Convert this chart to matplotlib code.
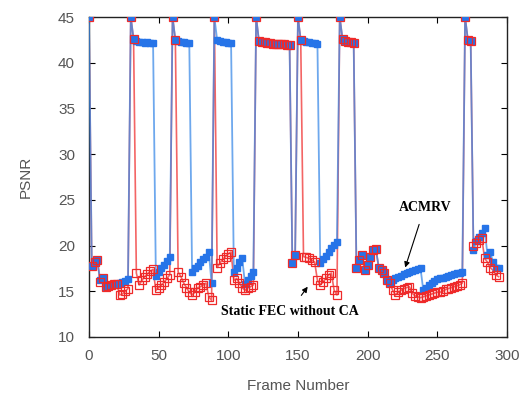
import matplotlib
matplotlib.use("Agg")
import matplotlib.pyplot as plt

# frame grid (every second frame)
frames = list(range(0, 296, 2))

# ACMRV
acmrv = [
    45,
    17.8, 18.2, 18.4, 16.2, 16.4, 15.5, 15.6, 15.7, 15.8, 15.8, 15.9, 16.0, 16.1, 16.3,
    45, 42.6, 42.4, 42.3, 42.3, 42.2, 42.3, 42.2, 42.2,
    16.7, 17.1, 17.5, 17.9, 18.3, 18.7,
    45, 42.5, 42.4, 42.3, 42.3, 42.2, 42.2,
    17.1, 17.5, 17.8, 18.2, 18.5, 18.8, 19.3, 15.9,
    45, 42.5, 42.4, 42.3, 42.3, 42.2, 42.2,
    17.1, 17.6, 18.2, 18.6, 15.8, 16.2, 16.7, 17.1,
    45, 42.4, 42.3, 42.3, 42.2, 42.2, 42.1, 42.1, 42.1, 42.0, 42.0, 41.9, 41.9,
    18.1, 19.0,
    45, 42.5, 42.4, 42.3, 42.3, 42.2, 42.2, 42.1,
    18.1, 18.5, 18.9, 19.3, 19.7, 20.1, 20.4,
    45, 42.6, 42.4, 42.3, 42.3, 42.2,
    17.6, 18.4, 19.0, 17.3, 17.9, 18.7, 19.5, 19.6, 17.6, 17.3, 17.0, 16.2, 15.9,
    16.2, 16.4, 16.6, 16.7, 16.9, 17.0, 17.1, 17.2, 17.3, 17.4, 17.5,
    15.1, 15.4, 15.7, 15.9, 16.1, 16.3, 16.4, 16.5, 16.6, 16.7, 16.8, 16.9, 17.0, 17.0, 17.1,
    45, 42.5, 42.4,
    19.5, 20.5, 20.9, 21.4, 21.9, 19.0, 19.3, 18.2, 17.6, 17.5,
]

# Static FEC without CA
static_fec = [
    45,
    17.8, 18.2, 18.4, 16.0, 16.4, 15.5, 15.6, 15.7, 15.8, 15.8, 14.6, 14.7, 15.0, 15.3,
    45, 42.6, 17.0, 15.7, 16.2, 16.6, 16.9, 17.2, 17.4,
    15.1, 15.4, 15.7, 16.0, 16.4, 16.8,
    45, 42.5, 17.1, 16.6, 15.9, 15.4, 14.9,
    14.6, 14.9, 15.4, 15.5, 15.7, 15.9, 14.4, 14.0,
    45, 17.6, 18.1, 18.5, 18.8, 19.1, 19.3,
    16.2, 16.4, 15.9, 15.4, 15.1, 15.4, 15.5, 15.7,
    45, 42.4, 42.3, 42.3, 42.2, 42.2, 42.1, 42.1, 42.1, 42.0, 42.0, 41.9, 41.9,
    18.1, 19.0,
    45, 42.5, 18.8, 18.7, 18.6, 18.4, 18.2, 16.2,
    15.7, 16.0, 16.4, 16.8, 17.0, 15.1, 14.6,
    45, 42.6, 42.4, 42.3, 42.3, 42.2,
    17.6, 18.4, 19.0, 17.3, 17.9, 18.7, 19.5, 19.6, 17.6, 17.3, 17.0, 16.2, 15.9,
    15.1, 14.6, 14.9, 15.1, 15.3, 15.4, 15.5, 14.8, 14.5, 14.4, 14.3,
    14.4, 14.5, 14.6, 14.7, 14.8, 14.9, 14.9, 15.0, 15.2, 15.3, 15.4, 15.5, 15.6, 15.7, 15.9,
    45, 42.5, 42.4,
    20.0, 20.3, 20.6, 20.8, 18.6, 18.2, 17.6, 17.3, 16.8, 16.6,
]

assert len(acmrv) == len(frames) and len(static_fec) == len(frames)

plt.rcParams["font.family"] = "Liberation Sans"

fig = plt.figure(figsize=(5.25, 3.96), dpi=100)
ax = fig.add_axes([0.1695, 0.149, 0.796, 0.808])

# red line underneath, semi-transparent blue on top -> purple where they overlap
ax.plot(frames, static_fec, color="#f24a4a", lw=1.2, alpha=0.85, zorder=2)
ax.plot(frames, acmrv, color="#3d8be8", lw=1.3, alpha=0.75, zorder=3)
ax.plot(frames, acmrv, ls="none", marker="s", ms=4.8, mfc="#2674e8",
        mec="#2674e8", zorder=4)
ax.plot(frames, static_fec, ls="none", marker="s", ms=5.6, mfc="none",
        mec="#ee2a2a", mew=0.9, zorder=5)

ax.set_xlim(0, 300)
ax.set_ylim(10, 45)
ax.set_xticks(range(0, 301, 50))
ax.set_yticks(range(10, 46, 5))
ax.tick_params(direction="in", length=4, top=True, right=True,
               labelsize=11, labelcolor="#555555")
ax.tick_params(axis="x", pad=9)
ax.tick_params(axis="y", pad=10)
for s in ax.spines.values():
    s.set_color("#222222")
    s.set_linewidth(1.0)

ax.set_xlabel("Frame Number", fontsize=11, color="#555555", labelpad=11)
ax.set_ylabel("PSNR", fontsize=11, color="#555555", labelpad=18)

bold = dict(family="Liberation Serif", fontweight="bold", fontsize=10)
ax.annotate("ACMRV", xy=(227, 17.6), xytext=(241, 24.2), ha="center", va="center",
            arrowprops=dict(arrowstyle="-|>", color="black", lw=0.8,
                            mutation_scale=8, shrinkA=6, shrinkB=0), **bold)
ax.annotate("Static FEC without CA", xy=(157, 15.5), xytext=(144, 12.8),
            ha="center", va="center",
            arrowprops=dict(arrowstyle="-|>", color="black", lw=0.8,
                            mutation_scale=8, shrinkA=6, shrinkB=0), **bold)

fig.savefig("out.png", dpi=100)
